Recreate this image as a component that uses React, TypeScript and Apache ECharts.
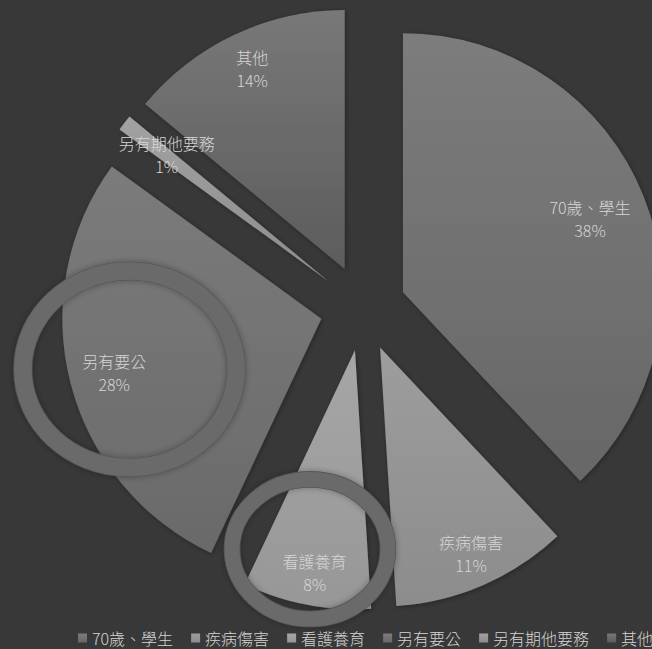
import React, { useEffect, useRef } from "react";
import * as echarts from "echarts";

const categories = ["70歲、學生", "疾病傷害", "看護養育", "另有要公", "另有期他要務", "其他"];
const values = [38, 11, 8, 28, 1, 14];

// style: gradient top/bottom colours per slice
const topColors = ["#7c7c7c", "#9d9d9d", "#a6a6a6", "#7b7b7b", "#a2a2a2", "#787878"];
const bottomColors = ["#676767", "#8c8c8c", "#979797", "#6a6a6a", "#8c8c8c", "#5c5c5c"];
// style: label distance from slice apex
const labelDist = [196, 221, 223, 213, 205, 219];

const FONT = "'Noto Sans CJK TC', 'Noto Sans', sans-serif";
const R = 259;

export default function App() {
  const ref = useRef<HTMLDivElement>(null);
  useEffect(() => {
    if (!ref.current) return;
    const chart = echarts.init(ref.current, null, { renderer: "svg" });
    const total = values.reduce((a, b) => a + b, 0);
    const mids: number[] = [];
    let cum = 0;
    values.forEach((v) => {
      mids.push(((cum + v / 2) / total) * Math.PI * 2);
      cum += v;
    });
    const ringStyle = (cx: number, cy: number, rx: number, ry: number, w: number) => [
      {
        type: "ellipse",
        z: 100,
        shape: { cx, cy, rx, ry },
        style: { fill: "none", stroke: "#575757", lineWidth: w + 1.6, shadowBlur: 6, shadowColor: "rgba(0,0,0,0.3)" },
      },
      {
        type: "ellipse",
        z: 101,
        shape: { cx, cy, rx, ry },
        style: { fill: "none", stroke: "#6a6a6a", lineWidth: w },
      },
    ];
    chart.setOption({
      animation: false,
      backgroundColor: "#383838",
      textStyle: { fontFamily: FONT },
      legend: {
        left: 73,
        top: 625,
        width: 900,
        icon: "rect",
        itemWidth: 9,
        itemHeight: 9,
        itemGap: 18,
        selectedMode: false,
        textStyle: { color: "#d4d4d4", fontSize: 16, fontFamily: FONT, fontWeight: 300 },
        data: categories,
      },
      graphic: [
        ...ringStyle(129.5, 369.3, 106.7, 98.3, 17.5),
        ...ringStyle(310, 549.2, 78, 69.8, 15),
      ],
      series: [
        {
          type: "pie",
          center: [363, 308],
          radius: [0, R],
          startAngle: 90,
          clockwise: true,
          selectedMode: "multiple",
          selectedOffset: 43,
          silent: true,
          avoidLabelOverlap: false,
          emphasis: { disabled: true },
          select: { itemStyle: { borderWidth: 0 } },
          itemStyle: {
            borderWidth: 0,
            shadowBlur: 5,
            shadowColor: "rgba(0,0,0,0.35)",
            shadowOffsetX: 1,
            shadowOffsetY: 1,
          },
          label: {
            show: true,
            position: "inside",
            formatter: "{b}\n{d}%",
            color: "#d6d6d6",
            fontSize: 16,
            fontWeight: 300,
            lineHeight: 23,
            fontFamily: FONT,
          },
          labelLine: { show: false },
          labelLayout: (params: any) => {
            const i = params.dataIndex;
            const a = mids[i];
            const ux = Math.sin(a);
            const uy = -Math.cos(a);
            const extra = labelDist[i] - R / 2;
            return { dx: extra * ux + 2, dy: extra * uy };
          },
          data: categories.map((name, i) => ({
            name,
            value: values[i],
            selected: true,
            itemStyle: {
              color: new echarts.graphic.LinearGradient(0, 0, 0, 1, [
                { offset: 0, color: topColors[i] },
                { offset: 1, color: bottomColors[i] },
              ]),
            },
          })),
        },
      ],
    });
    return () => chart.dispose();
  }, []);
  return (
    <div
      ref={ref}
      style={{ position: "fixed", left: 0, top: 0, width: 652, height: 649 }}
    />
  );
}
